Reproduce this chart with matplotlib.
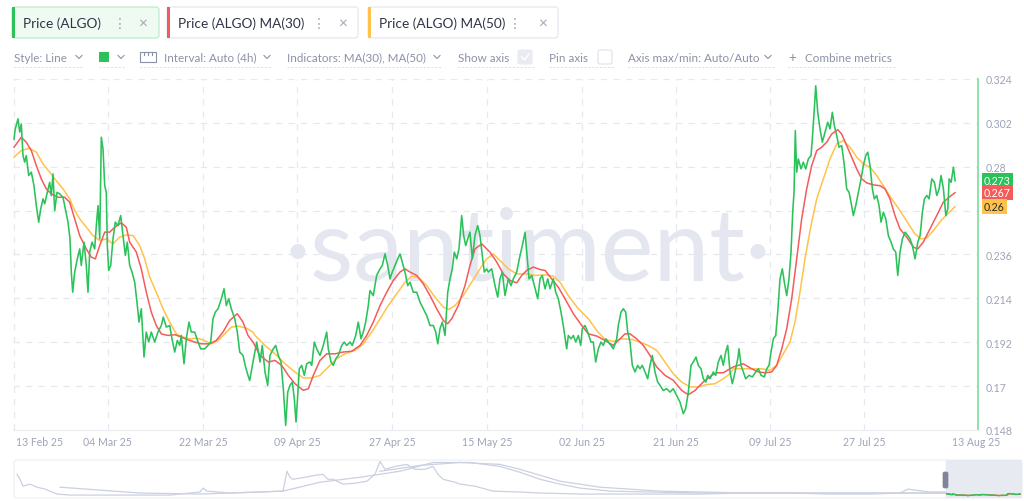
import matplotlib.pyplot as plt
from matplotlib.patches import FancyBboxPatch, Rectangle
from matplotlib.lines import Line2D
from matplotlib.transforms import IdentityTransform

plt.rcParams['font.family'] = ['Lato', 'DejaVu Sans']

# ---- data (days since 13 Feb 2025, price in USD) ----
price_pts = [
    (1.32, 0.2939), (1.56, 0.2990), (2.07, 0.3040), (2.39, 0.2974), (2.69, 0.3015), (3.01, 0.2856),
    (3.33, 0.2823), (3.63, 0.2856), (4.09, 0.2756), (4.58, 0.2773), (5.08, 0.2705), (5.52, 0.2605),
    (5.97, 0.2522), (6.35, 0.2589), (6.78, 0.2639), (7.10, 0.2614), (7.59, 0.2672), (8.04, 0.2722),
    (8.34, 0.2655), (8.66, 0.2764), (8.98, 0.2580), (9.42, 0.2672), (9.92, 0.2664), (10.54, 0.2647),
    (10.98, 0.2589), (11.49, 0.2522), (11.86, 0.2438), (12.11, 0.2272), (12.37, 0.2171), (12.75, 0.2272),
    (13.24, 0.2338), (13.69, 0.2388), (13.99, 0.2305), (14.50, 0.2422), (14.93, 0.2305), (15.25, 0.2171),
    (15.57, 0.2372), (16.01, 0.2422), (16.51, 0.2388), (16.82, 0.2505), (17.14, 0.2605), (17.46, 0.2438),
    (17.76, 0.2948), (18.08, 0.2889), (18.40, 0.2705), (18.70, 0.2672), (18.89, 0.2405), (19.15, 0.2280),
    (19.53, 0.2305), (19.96, 0.2438), (20.39, 0.2522), (20.90, 0.2505), (21.41, 0.2555), (21.84, 0.2455),
    (22.28, 0.2355), (22.65, 0.2422), (23.10, 0.2305), (23.54, 0.2272), (24.05, 0.2221), (24.54, 0.2104),
    (24.86, 0.2021), (25.29, 0.2088), (25.80, 0.1846), (26.23, 0.1971), (26.68, 0.1921), (27.17, 0.1971),
    (27.81, 0.1921), (28.43, 0.1971), (29.06, 0.2004), (29.43, 0.2046), (30.00, 0.1996), (30.64, 0.2004),
    (31.07, 0.1937), (31.58, 0.1871), (32.07, 0.1929), (32.52, 0.1904), (32.82, 0.1954), (33.33, 0.1812),
    (33.76, 0.1937), (34.27, 0.2021), (34.70, 0.1971), (35.34, 0.1971), (35.97, 0.1921), (36.47, 0.1887),
    (37.23, 0.1887), (37.85, 0.1904), (38.36, 0.1921), (38.79, 0.2038), (39.23, 0.2071), (39.74, 0.2088),
    (40.36, 0.2138), (40.87, 0.2188), (41.30, 0.2104), (41.75, 0.2138), (42.24, 0.2088), (42.88, 0.2038),
    (43.37, 0.1971), (43.82, 0.1871), (44.44, 0.1854), (44.87, 0.1802), (45.38, 0.1754), (45.70, 0.1728),
    (46.32, 0.1821), (47.02, 0.1921), (47.64, 0.1821), (48.07, 0.1904), (48.58, 0.1771), (49.09, 0.1704),
    (49.52, 0.1854), (50.14, 0.1887), (50.60, 0.1904), (51.09, 0.1854), (51.59, 0.1821), (52.03, 0.1687),
    (52.48, 0.1503), (52.86, 0.1670), (53.29, 0.1704), (53.72, 0.1721), (54.10, 0.1637), (54.42, 0.1520),
    (54.74, 0.1653), (55.04, 0.1787), (55.49, 0.1804), (55.98, 0.1754), (56.43, 0.1812), (57.05, 0.1821),
    (57.38, 0.1804), (57.87, 0.1921), (58.32, 0.1887), (58.94, 0.1854), (59.56, 0.1904), (60.20, 0.1971),
    (60.50, 0.1887), (61.01, 0.1821), (61.44, 0.1804), (61.90, 0.1837), (62.39, 0.1854), (63.03, 0.1904),
    (63.51, 0.1921), (63.97, 0.1904), (64.59, 0.1921), (65.02, 0.1904), (65.66, 0.1954), (66.15, 0.2021),
    (66.66, 0.1937), (67.09, 0.1971), (67.54, 0.2021), (68.03, 0.2104), (68.35, 0.2179), (68.97, 0.2154),
    (69.61, 0.2255), (70.24, 0.2288), (70.67, 0.2305), (71.18, 0.2363), (71.69, 0.2305), (72.12, 0.2238),
    (72.55, 0.2272), (73.06, 0.2305), (73.57, 0.2338), (74.00, 0.2363), (74.43, 0.2322), (74.94, 0.2272),
    (75.45, 0.2204), (75.89, 0.2221), (76.51, 0.2171), (77.15, 0.2171), (77.77, 0.2121), (78.39, 0.2088),
    (79.03, 0.2054), (79.65, 0.2004), (80.28, 0.2004), (80.73, 0.1971), (81.11, 0.1912), (81.54, 0.1988),
    (81.97, 0.2021), (82.48, 0.1954), (82.99, 0.2171), (83.42, 0.2238), (83.85, 0.2288), (84.23, 0.2372),
    (84.68, 0.2338), (85.11, 0.2388), (85.62, 0.2555), (85.99, 0.2455), (86.37, 0.2405), (86.75, 0.2438),
    (87.18, 0.2472), (87.62, 0.2338), (88.12, 0.2455), (88.63, 0.2505), (89.06, 0.2455), (89.50, 0.2355),
    (89.87, 0.2272), (90.32, 0.2288), (90.63, 0.2272), (91.27, 0.2288), (91.89, 0.2204), (92.40, 0.2146),
    (92.83, 0.2238), (93.27, 0.2272), (93.77, 0.2154), (94.40, 0.2238), (94.91, 0.2204), (95.34, 0.2238),
    (95.98, 0.2272), (96.60, 0.2355), (97.04, 0.2405), (97.55, 0.2472), (97.92, 0.2355), (98.30, 0.2238),
    (98.81, 0.2255), (99.30, 0.2204), (99.94, 0.2138), (100.37, 0.2238), (100.80, 0.2255), (101.31, 0.2188),
    (101.82, 0.2238), (102.25, 0.2188), (102.87, 0.2238), (103.32, 0.2171), (103.81, 0.2138), (104.32, 0.2071),
    (104.75, 0.2004), (105.39, 0.1887), (105.70, 0.1954), (106.21, 0.1937), (106.64, 0.1954), (107.09, 0.1921),
    (107.58, 0.1954), (108.03, 0.1904), (108.33, 0.1988), (108.84, 0.2004), (109.35, 0.1971), (109.97, 0.1921),
    (110.40, 0.1921), (110.85, 0.1821), (111.35, 0.1887), (111.85, 0.1921), (112.29, 0.1904), (112.74, 0.1937),
    (113.23, 0.1921), (113.74, 0.1904), (114.17, 0.1887), (114.81, 0.1937), (115.11, 0.2004), (115.62, 0.2071),
    (116.05, 0.2088), (116.50, 0.2071), (116.88, 0.1971), (117.31, 0.1921), (117.75, 0.1804), (118.26, 0.1771),
    (118.76, 0.1804), (119.19, 0.1787), (119.63, 0.1804), (120.14, 0.1771), (120.64, 0.1737), (121.08, 0.1804),
    (121.51, 0.1854), (122.02, 0.1771), (122.53, 0.1720), (122.96, 0.1704), (123.58, 0.1678), (124.22, 0.1687),
    (124.84, 0.1670), (125.46, 0.1687), (126.10, 0.1653), (126.72, 0.1620), (127.35, 0.1562), (127.80, 0.1587),
    (128.29, 0.1670), (128.80, 0.1804), (129.23, 0.1821), (129.74, 0.1846), (130.17, 0.1804), (130.68, 0.1787),
    (131.12, 0.1737), (131.57, 0.1720), (131.95, 0.1754), (132.38, 0.1737), (133.00, 0.1771), (133.45, 0.1754),
    (133.94, 0.1821), (134.45, 0.1854), (134.88, 0.1804), (135.33, 0.1871), (135.71, 0.1904), (136.15, 0.1771),
    (136.58, 0.1712), (137.09, 0.1771), (137.60, 0.1837), (137.84, 0.1887), (138.22, 0.1804), (138.65, 0.1771),
    (139.10, 0.1737), (139.73, 0.1754), (140.35, 0.1746), (140.99, 0.1771), (141.48, 0.1787), (141.99, 0.1754),
    (142.61, 0.1746), (143.06, 0.1787), (143.49, 0.1804), (143.87, 0.1871), (144.30, 0.1937), (144.75, 0.1954),
    (145.13, 0.2071), (145.56, 0.2238), (145.99, 0.2288), (146.37, 0.2221), (146.82, 0.2154), (147.25, 0.2238),
    (147.63, 0.2372), (147.95, 0.2572), (148.20, 0.2672), (148.44, 0.2981), (148.70, 0.2773), (149.01, 0.2839),
    (149.52, 0.2789), (149.95, 0.2823), (150.40, 0.2789), (150.89, 0.2839), (151.40, 0.2856), (151.64, 0.2939),
    (152.02, 0.3090), (152.28, 0.3206), (152.66, 0.3073), (153.09, 0.2990), (153.53, 0.2923), (154.03, 0.2973),
    (154.54, 0.3023), (154.97, 0.2990), (155.41, 0.3073), (155.79, 0.3006), (156.24, 0.2956), (156.67, 0.2898),
    (157.18, 0.2906), (157.67, 0.2806), (158.12, 0.2689), (158.56, 0.2672), (158.93, 0.2622), (159.37, 0.2555),
    (159.82, 0.2605), (160.31, 0.2672), (160.82, 0.2739), (161.25, 0.2806), (161.70, 0.2856), (162.08, 0.2873),
    (162.51, 0.2806), (162.95, 0.2689), (163.32, 0.2639), (163.77, 0.2656), (164.21, 0.2605), (164.58, 0.2522),
    (165.02, 0.2572), (165.47, 0.2539), (165.96, 0.2455), (166.47, 0.2422), (166.90, 0.2388), (167.35, 0.2372),
    (167.73, 0.2255), (168.16, 0.2372), (168.60, 0.2438), (169.11, 0.2472), (169.62, 0.2455), (170.05, 0.2438),
    (170.49, 0.2405), (170.99, 0.2338), (171.50, 0.2422), (171.94, 0.2455), (172.37, 0.2572), (172.75, 0.2639),
    (173.20, 0.2656), (173.63, 0.2639), (174.14, 0.2739), (174.63, 0.2722), (175.08, 0.2656), (175.52, 0.2689),
    (175.89, 0.2756), (176.33, 0.2689), (176.78, 0.2555), (177.16, 0.2589), (177.40, 0.2739), (177.78, 0.2722),
    (178.21, 0.2798), (178.53, 0.2730),
]

ma30_pts = [
    (1.32, 0.2898), (2.69, 0.2948), (3.63, 0.2923), (4.58, 0.2881), (5.52, 0.2806), (6.46, 0.2739),
    (7.40, 0.2689), (8.34, 0.2664), (9.60, 0.2647), (10.87, 0.2647), (11.81, 0.2622), (12.75, 0.2539),
    (13.69, 0.2455), (14.93, 0.2388), (15.87, 0.2347), (16.63, 0.2338), (17.46, 0.2405), (18.40, 0.2472),
    (19.34, 0.2472), (20.28, 0.2497), (21.52, 0.2519), (22.46, 0.2497), (23.10, 0.2422), (24.35, 0.2372),
    (25.29, 0.2288), (26.23, 0.2171), (27.17, 0.2071), (28.11, 0.2004), (29.06, 0.1962), (30.32, 0.1954),
    (31.58, 0.1958), (32.82, 0.1946), (34.08, 0.1932), (35.34, 0.1921), (36.59, 0.1912), (38.17, 0.1912),
    (39.41, 0.1929), (40.67, 0.1971), (41.93, 0.2029), (43.37, 0.2063), (44.44, 0.2021), (45.38, 0.1954),
    (46.32, 0.1921), (47.64, 0.1854), (49.20, 0.1821), (50.46, 0.1829), (51.73, 0.1804), (52.97, 0.1754),
    (54.23, 0.1712), (55.79, 0.1679), (56.74, 0.1687), (57.68, 0.1754), (58.94, 0.1829), (60.20, 0.1862),
    (61.76, 0.1862), (63.33, 0.1871), (64.91, 0.1875), (66.47, 0.1904), (67.73, 0.1954), (68.97, 0.2021),
    (70.24, 0.2104), (71.50, 0.2171), (72.74, 0.2230), (74.00, 0.2272), (74.94, 0.2288), (75.88, 0.2272),
    (77.15, 0.2255), (78.39, 0.2213), (79.65, 0.2154), (80.91, 0.2088), (82.16, 0.2029), (82.99, 0.2013),
    (83.74, 0.2038), (84.98, 0.2104), (86.24, 0.2204), (87.18, 0.2305), (88.12, 0.2388), (89.39, 0.2413),
    (90.33, 0.2388), (90.95, 0.2372), (92.21, 0.2322), (93.45, 0.2263), (94.72, 0.2230), (95.98, 0.2218),
    (96.92, 0.2255), (97.86, 0.2280), (99.10, 0.2297), (100.36, 0.2285), (101.31, 0.2280), (102.57, 0.2238),
    (103.81, 0.2196), (105.07, 0.2138), (106.64, 0.2063), (108.22, 0.2004), (109.46, 0.1962), (111.04, 0.1951),
    (112.61, 0.1929), (114.17, 0.1904), (115.11, 0.1929), (116.37, 0.1962), (117.31, 0.1962), (118.57, 0.1937),
    (119.82, 0.1904), (121.08, 0.1854), (122.34, 0.1796), (123.90, 0.1754), (125.47, 0.1729), (127.05, 0.1678),
    (128.29, 0.1657), (129.55, 0.1678), (131.11, 0.1721), (132.70, 0.1754), (133.64, 0.1767), (134.88, 0.1767),
    (136.14, 0.1787), (136.76, 0.1796), (138.65, 0.1812), (140.23, 0.1787), (141.47, 0.1771), (142.73, 0.1767),
    (143.99, 0.1771), (144.93, 0.1804), (145.88, 0.1887), (146.82, 0.1988), (147.76, 0.2138), (148.70, 0.2338),
    (149.64, 0.2539), (150.58, 0.2689), (151.53, 0.2806), (152.47, 0.2881), (153.41, 0.2898), (154.35, 0.2923),
    (155.29, 0.2964), (156.42, 0.2986), (157.17, 0.2964), (158.12, 0.2906), (159.06, 0.2848), (160.00, 0.2789),
    (160.94, 0.2739), (161.88, 0.2719), (163.13, 0.2709), (164.39, 0.2705), (165.33, 0.2689), (166.27, 0.2639),
    (167.21, 0.2555), (168.15, 0.2488), (169.42, 0.2447), (170.66, 0.2397), (171.49, 0.2388), (172.54, 0.2422),
    (173.80, 0.2488), (175.06, 0.2555), (176.31, 0.2622), (177.38, 0.2647), (178.51, 0.2670),
]

ma50_pts = [
    (1.32, 0.2848), (2.69, 0.2881), (4.27, 0.2893), (5.52, 0.2873), (6.78, 0.2814), (8.04, 0.2773),
    (9.28, 0.2730), (10.54, 0.2689), (11.81, 0.2639), (12.75, 0.2580), (13.69, 0.2539), (14.93, 0.2497),
    (16.19, 0.2455), (17.46, 0.2430), (18.70, 0.2438), (19.96, 0.2413), (21.22, 0.2447), (22.46, 0.2458),
    (23.73, 0.2455), (24.99, 0.2405), (25.93, 0.2338), (26.87, 0.2247), (28.11, 0.2171), (29.37, 0.2088),
    (30.64, 0.2021), (31.88, 0.1962), (33.14, 0.1946), (34.40, 0.1937), (35.65, 0.1941), (36.91, 0.1932),
    (38.47, 0.1912), (39.73, 0.1929), (40.99, 0.1962), (42.24, 0.1996), (43.50, 0.2001), (45.06, 0.1991),
    (46.32, 0.1971), (46.70, 0.1954), (48.58, 0.1904), (50.46, 0.1862), (52.35, 0.1812), (54.23, 0.1771),
    (55.79, 0.1741), (57.38, 0.1741), (58.94, 0.1754), (60.50, 0.1796), (62.08, 0.1837), (63.65, 0.1862),
    (65.53, 0.1879), (67.09, 0.1912), (68.67, 0.1971), (70.24, 0.2038), (71.80, 0.2104), (73.38, 0.2163),
    (74.94, 0.2221), (76.21, 0.2251), (77.45, 0.2246), (79.03, 0.2204), (80.59, 0.2146), (82.16, 0.2096),
    (83.23, 0.2084), (84.36, 0.2104), (85.92, 0.2154), (87.50, 0.2221), (89.07, 0.2288), (90.33, 0.2338),
    (91.57, 0.2363), (92.83, 0.2330), (94.40, 0.2288), (95.98, 0.2263), (97.86, 0.2263), (99.42, 0.2255),
    (101.31, 0.2258), (102.87, 0.2251), (104.13, 0.2221), (105.69, 0.2154), (107.58, 0.2088), (109.46, 0.2038),
    (111.04, 0.1979), (112.61, 0.1934), (114.17, 0.1924), (115.75, 0.1937), (117.63, 0.1934), (119.19, 0.1921),
    (120.76, 0.1904), (122.34, 0.1879), (123.90, 0.1821), (125.47, 0.1762), (127.05, 0.1720), (128.61, 0.1696),
    (130.18, 0.1696), (131.76, 0.1708), (133.32, 0.1712), (134.88, 0.1737), (136.14, 0.1762), (136.76, 0.1787),
    (138.65, 0.1787), (140.53, 0.1787), (142.11, 0.1787), (143.67, 0.1779), (144.93, 0.1804), (146.18, 0.1862),
    (147.44, 0.1921), (148.38, 0.2021), (149.32, 0.2171), (150.26, 0.2338), (151.39, 0.2505), (152.47, 0.2639),
    (153.71, 0.2739), (154.97, 0.2839), (156.23, 0.2914), (157.48, 0.2931), (158.74, 0.2898), (160.00, 0.2848),
    (161.24, 0.2814), (162.51, 0.2798), (163.77, 0.2756), (165.01, 0.2705), (166.59, 0.2639), (168.15, 0.2580),
    (169.72, 0.2514), (170.98, 0.2463), (172.11, 0.2438), (173.18, 0.2443), (174.43, 0.2480), (175.88, 0.2530),
    (177.14, 0.2564), (178.51, 0.2600),
]

y_ticks = [0.148, 0.17, 0.192, 0.214, 0.236, 0.258, 0.28, 0.302, 0.324]
y_labels = ['0.148', '0.17', '0.192', '0.214', '0.236', '', '0.28', '0.302', '0.324']
grid_days = [19.0, 36.9, 54.6, 72.5, 90.4, 108.3, 126.0, 143.7, 161.4]
grid_labels = ['04 Mar 25', '22 Mar 25', '09 Apr 25', '27 Apr 25', '15 May 25',
               '02 Jun 25', '21 Jun 25', '09 Jul 25', '27 Jul 25']
edge_days = [6.2, 182.4]
edge_labels = ['13 Feb 25', '13 Aug 25']
last_values = [('0.273', '#2bc25a', 'white'), ('0.267', '#f45b5b', 'white'), ('0.26', '#ffc24a', '#2a2a2a')]
last_prices = [0.273, 0.267, 0.260]

# overview navigator (whole history, arbitrary time units 0..100, USD)
nav_price_pts = [
    (0.30, 1.62), (0.60, 1.28), (0.89, 0.81), (1.59, 0.95), (2.28, 0.74), (3.08, 0.61), (4.27, 0.27),
    (5.56, 0.20), (8.53, 0.20), (11.81, 0.20), (15.48, 0.20), (18.45, 0.41), (18.75, 0.68), (19.15, 0.47),
    (21.43, 0.34), (24.40, 0.41), (26.69, 0.47), (27.08, 1.83), (27.38, 1.42), (27.68, 1.28), (28.87, 1.42),
    (29.86, 1.55), (30.65, 1.62), (31.15, 1.28), (31.65, 1.28), (32.64, 0.95), (33.83, 1.01), (35.02, 1.15),
    (35.81, 1.62), (36.31, 2.50), (36.81, 1.96), (37.80, 2.16), (38.99, 2.30), (39.78, 1.96), (40.77, 1.96),
    (41.57, 2.16), (42.06, 1.62), (42.56, 1.28), (43.75, 1.08), (44.25, 0.95), (45.73, 0.81), (47.52, 0.47),
    (50.20, 0.41), (52.18, 0.34), (56.15, 0.27), (60.12, 0.27), (64.09, 0.27), (68.06, 0.27), (72.02, 0.34),
    (76.98, 0.34), (80.95, 0.27), (84.92, 0.27), (87.90, 0.34), (88.69, 0.61), (89.38, 0.54), (90.87, 0.41),
    (92.46, 0.41),
]
nav_ma_pts = [
    (4.56, 0.74), (8.53, 0.54), (12.50, 0.34), (18.45, 0.27), (26.69, 0.47), (30.36, 1.08), (34.33, 1.42),
    (38.29, 1.83), (41.57, 2.43), (45.24, 2.43), (48.21, 2.16), (50.20, 1.76), (52.18, 1.28), (54.17, 0.95),
    (56.15, 0.68), (59.13, 0.47), (63.10, 0.41), (68.06, 0.34), (77.98, 0.34), (92.46, 0.34),
]
nav_ma2_pts = [
    (36.31, 1.83), (40.28, 2.23), (44.25, 2.43), (48.21, 2.30), (50.20, 1.96), (54.17, 1.15), (58.13, 0.74),
    (64.09, 0.47), (73.00, 0.34), (92.46, 0.34),
]

W, H = 1024, 502
GREEN, RED, YELLOW = '#2bc25a', '#f45b5b', '#ffc24a'
MUTED = '#8b91a7'
GRID = '#e6e8f0'
ID = IdentityTransform()

fig = plt.figure(figsize=(W / 100, H / 100), dpi=100)
fig.patch.set_facecolor('white')


def rbox(x0, y0, x1, y1, fc, ec, lw=1.0, r=3, z=1):
    fig.add_artist(FancyBboxPatch((x0, H - y1), x1 - x0, y1 - y0,
                                  boxstyle=f'round,pad=0,rounding_size={r}',
                                  fc=fc, ec=ec, lw=lw, transform=ID, zorder=z))


def ptext(x, y, s, **kw):
    return fig.text(x / W, 1 - y / H, s, **kw)


def chevron(x, y, c=MUTED):
    fig.add_artist(Line2D([x - 3, x, x + 3], [H - y + 1.5, H - y - 1.5, H - y + 1.5],
                          color=c, lw=0.8, transform=ID))


def underline(x0, x1, y=68):
    fig.add_artist(Line2D([x0, x1], [H - y, H - y], color='#d9dce8', lw=0.7,
                          ls=(0, (2, 2)), transform=ID))


# ---- metric tabs ----
tabs = [(12, 159, 'Price (ALGO)', GREEN, '#effbf2', '#bdeccb', 120, 143),
        (167, 358, 'Price (ALGO) MA(30)', RED, 'white', '#e6e8f0', 319, 343),
        (368, 558, 'Price (ALGO) MA(50)', YELLOW, 'white', '#e6e8f0', 515, 543)]
for x0, x1, label, col, fc, ec, xd, xx in tabs:
    rbox(x0, 8, x1, 39, fc, ec, lw=0.9, r=3)
    fig.add_artist(Rectangle((x0, H - 39), 3, 31, fc=col, ec='none', transform=ID, zorder=2))
    ptext(x0 + 11, 24, label, fontsize=9.8, color='#2f3447', va='center')
    ptext(xd, 24, '\u22ee', fontsize=10, color='#a0a5b8', va='center', ha='center', family='DejaVu Sans')
    ptext(xx, 24, '\u00d7', fontsize=11, color='#a0a5b8', va='center', ha='center')

# ---- toolbar ----
tb_y = 58
TB = 8.4
ptext(14, tb_y, 'Style: Line', fontsize=TB, color=MUTED, va='center')
chevron(79, tb_y)
underline(14, 84)
fig.add_artist(Rectangle((99, H - 63), 10, 10, fc=GREEN, ec='none', transform=ID))
chevron(121, tb_y)
underline(99, 125)
fig.add_artist(Rectangle((140, H - 63), 16, 10, fc='none', ec=MUTED, lw=0.8, transform=ID))
for tx in (144, 148, 152):
    fig.add_artist(Line2D([tx, tx], [H - 53, H - 56], color=MUTED, lw=0.8, transform=ID))
ptext(164, tb_y, 'Interval: Auto (4h)', fontsize=TB, color=MUTED, va='center')
chevron(267, tb_y)
underline(140, 272)
ptext(287, tb_y, 'Indicators: MA(30), MA(50)', fontsize=TB, color=MUTED, va='center')
chevron(437, tb_y)
underline(287, 442)
ptext(458, tb_y, 'Show axis', fontsize=TB, color=MUTED, va='center')
rbox(518, 51, 532, 65, '#e9ebf1', '#e9ebf1', lw=0.8, r=2)
fig.add_artist(Line2D([521.5, 524.5, 529], [H - 58, H - 61, H - 55], color='white', lw=1.0, transform=ID))
underline(458, 534)
ptext(549, tb_y, 'Pin axis', fontsize=TB, color=MUTED, va='center')
rbox(598, 51, 612, 65, 'white', '#dfe2eb', lw=0.8, r=2)
underline(549, 614)
ptext(628, tb_y, 'Axis max/min: Auto/Auto', fontsize=TB, color=MUTED, va='center')
chevron(768, tb_y)
underline(628, 774)
ptext(792, tb_y, '+', fontsize=9.5, color=MUTED, va='center', ha='center')
ptext(805, tb_y, 'Combine metrics', fontsize=TB, color=MUTED, va='center')
underline(788, 895)

# ---- main chart ----
ax = fig.add_axes([13 / W, 1 - 431 / H, (978 - 13) / W, (431 - 80) / H])
ax.set_xlim(1.13, 182.84)
ax.set_ylim(0.148, 0.324)
ax.set_facecolor('none')

for yv in y_ticks[1:]:
    ax.axhline(yv, color=GRID, lw=0.9, ls=(0, (5, 5)), zorder=0)
for xv in grid_days:
    ax.axvline(xv, color=GRID, lw=0.9, ls=(0, (5, 5)), zorder=0)
ax.axvline(1.32, color=GRID, lw=0.9, ls=(0, (5, 5)), zorder=0)

ax.text(0.534, 0.43, '\u00b7santiment\u00b7', transform=ax.transAxes, ha='center', va='baseline',
        fontsize=72, color='#e5e7f0', zorder=0.5, family='Lato')

p_day, p_val = zip(*price_pts)
m30_day, m30_val = zip(*ma30_pts)
m50_day, m50_val = zip(*ma50_pts)
ax.plot(m50_day, m50_val, color=YELLOW, lw=1.1, zorder=2)
ax.plot(m30_day, m30_val, color=RED, lw=1.1, zorder=3)
ax.plot(p_day, p_val, color=GREEN, lw=1.15, zorder=4)

for s in ('top', 'left'):
    ax.spines[s].set_visible(False)
ax.spines['bottom'].set_color('#eceef4')
ax.spines['bottom'].set_linewidth(0.9)
ax.spines['right'].set_color('#8fe3a5')
ax.spines['right'].set_linewidth(1.4)

ax.yaxis.tick_right()
ax.set_yticks(y_ticks)
ax.set_yticklabels(y_labels)
ax.tick_params(axis='y', length=0, pad=5.5, labelsize=7.6, labelcolor='#9ea4b8')
ax.set_xticks(edge_days[:1] + grid_days + edge_days[1:])
ax.set_xticklabels(edge_labels[:1] + grid_labels + edge_labels[1:])
ax.tick_params(axis='x', length=0, pad=4.5, labelsize=7.6, labelcolor='#9ea4b8')

# last value tags on the axis
for (txt, fc, tc), val in zip(last_values, last_prices):
    yfig = ax.transData.transform((0, val))[1] / H
    fig.text(984 / W, yfig, txt, fontsize=7.6, color=tc, va='center', ha='left',
             bbox=dict(boxstyle='square,pad=0.18', fc=fc, ec='none'), zorder=5)

# ---- navigator ----
rbox(14, 461, 1022, 499, 'white', '#eceef4', lw=0.8, r=3, z=-1)
nav = fig.add_axes([14 / W, 1 - 499 / H, (1022 - 14) / W, 38 / H])
nav.set_xlim(0, 100)
nav.set_ylim(0, 2.6)
nav.axis('off')
nav.patch.set_alpha(0)
for pts in (nav_price_pts, nav_ma_pts, nav_ma2_pts):
    nx, nyv = zip(*pts)
    nav.plot(nx, nyv, color='#ccd0e0', lw=0.9)
nav.axvspan(92.5, 100, color='#e8eaf1', zorder=0)

sel = fig.add_axes([946 / W, 1 - 499 / H, (1022 - 946) / W, 38 / H])
sel.set_xlim(1.13, 182.84)
sel.set_ylim(0, 2.6)
sel.axis('off')
sel.patch.set_alpha(0)
sel.plot(m50_day, m50_val, color=YELLOW, lw=0.9)
sel.plot(m30_day, m30_val, color=RED, lw=0.9)
sel.plot(p_day, p_val, color=GREEN, lw=0.9)
rbox(943, 473, 948, 489, '#7f8598', '#7f8598', lw=0.5, r=1.5, z=6)

fig.savefig('out.png', dpi=100)
